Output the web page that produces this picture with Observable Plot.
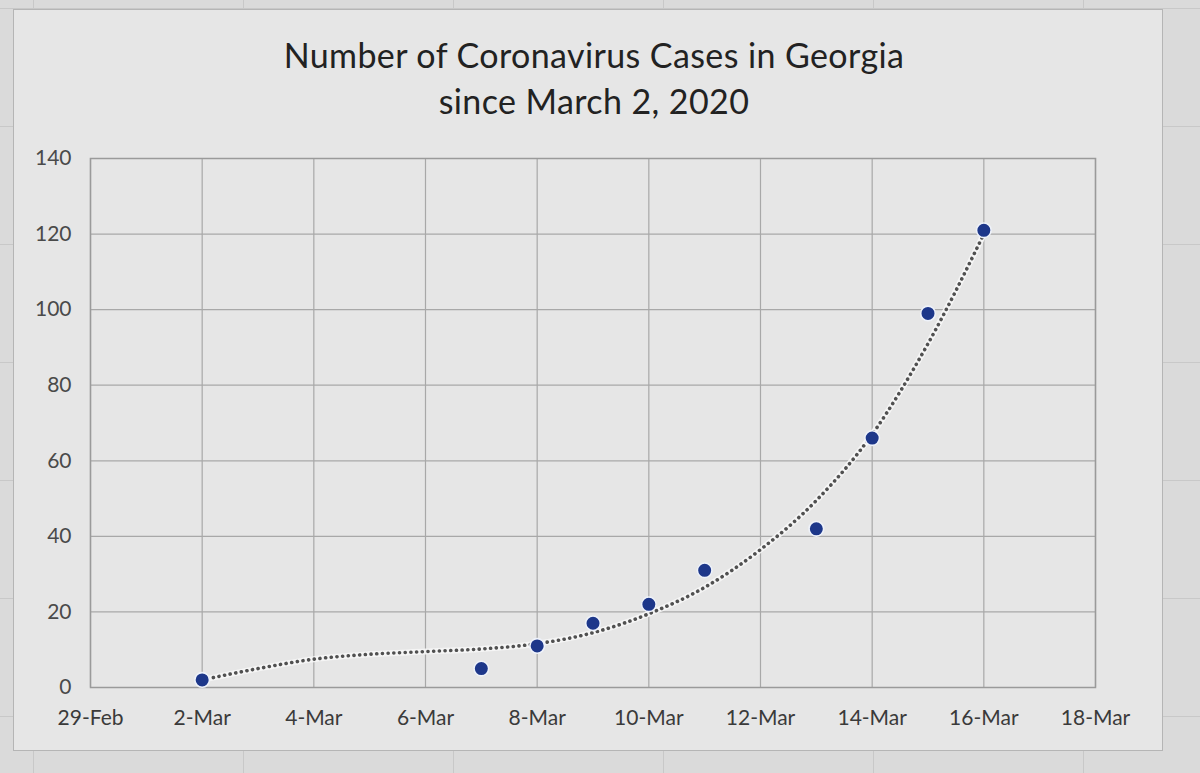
<!DOCTYPE html>
<html>
<head>
<meta charset="utf-8">
<script src="https://cdn.jsdelivr.net/npm/d3@7"></script>
<script src="https://cdn.jsdelivr.net/npm/@observablehq/plot@0.6"></script>
<style>
  html, body { margin: 0; padding: 0; width: 1200px; height: 773px; overflow: hidden; }
  body { background: #dadada; position: relative; font-family: Lato, "Open Sans", sans-serif; }
  #sheet { position: absolute; left: 0; top: 0; width: 1200px; height: 773px;
    background-image: linear-gradient(#c8c8c8 1px, transparent 1px), linear-gradient(90deg, #c8c8c8 1px, transparent 1px);
    background-size: 210px 118px; background-position: 0 -110px, 33px 0; }
  #card { position: absolute; left: 13px; top: 9px; width: 1148px; height: 740px;
    background: #e6e6e6; border: 1px solid #b5b5b5; }
  #title { position: absolute; left: 0; top: 32px; width: 1188px; text-align: center;
    font-size: 34px; letter-spacing: 0.4px; line-height: 46px; color: #222; }
  #chart { position: absolute; left: 0; top: 130px; }
</style>
</head>
<body>
<div id="sheet"></div>
<div id="card"></div>
<div id="title">Number of Coronavirus Cases in Georgia<br>since March 2, 2020</div>
<div id="chart"></div>
<script>
// Observed case counts
const dates = ["2020-03-02","2020-03-07","2020-03-08","2020-03-09","2020-03-10","2020-03-11","2020-03-13","2020-03-14","2020-03-15","2020-03-16"];
const cases = [2, 5, 11, 17, 22, 31, 42, 66, 99, 121];

// Dotted trendline
const trendDates = ["2020-03-02","2020-03-03","2020-03-04","2020-03-05","2020-03-06","2020-03-07","2020-03-08","2020-03-09","2020-03-10","2020-03-11","2020-03-12","2020-03-13","2020-03-14","2020-03-15","2020-03-16"];
const trendValues = [2, 5, 7.5, 8.8, 9.5, 10.2, 11.6, 14.5, 19.5, 26.5, 36.5, 49.5, 67, 91, 120];

// Axis ticks
const xTicks = ["2020-02-29","2020-03-02","2020-03-04","2020-03-06","2020-03-08","2020-03-10","2020-03-12","2020-03-14","2020-03-16","2020-03-18"];
const yTicks = [0, 20, 40, 60, 80, 100, 120, 140];

const parse = d3.utcParse("%Y-%m-%d");
const points = dates.map((d, i) => ({date: parse(d), value: cases[i]}));
const trend = trendDates.map((d, i) => ({date: parse(d), value: trendValues[i]}));
const xt = xTicks.map(parse);

const chart = Plot.plot({
  width: 1200,
  height: 600,
  marginLeft: 90,
  marginRight: 105,
  marginTop: 28,
  marginBottom: 43,
  style: {background: "transparent", fontFamily: "Lato, 'Open Sans', sans-serif", fontSize: "21px", color: "#444"},
  x: {type: "utc", domain: [xt[0], xt[xt.length - 1]], label: null},
  y: {domain: [0, 140], label: null},
  marks: [
    Plot.gridX(xt, {stroke: "#a8a8a8", strokeOpacity: 1, strokeWidth: 1.2}),
    Plot.gridY(yTicks, {stroke: "#a8a8a8", strokeOpacity: 1, strokeWidth: 1.2}),
    Plot.frame({stroke: "#9a9a9a", strokeWidth: 1.5}),
    Plot.axisX({ticks: xt, tickFormat: d3.utcFormat("%-d-%b"), tickSize: 0, tickPadding: 23, fill: "#3a3a3a"}),
    Plot.axisY({ticks: yTicks, tickSize: 0, tickPadding: 19, fill: "#4a4a4a"}),
    Plot.line(trend, {x: "date", y: "value", curve: "monotone-x", stroke: "#f6f6f6", strokeWidth: 6, strokeOpacity: 0.9}),
    Plot.line(trend, {x: "date", y: "value", curve: "monotone-x", stroke: "#505050", strokeWidth: 3.6, strokeDasharray: "0.1,5.6", strokeLinecap: "round"}),
    Plot.dot(points, {x: "date", y: "value", r: 7.3, fill: "#1d378a", stroke: "#eef2fa", strokeWidth: 1.6})
  ]
});
document.getElementById("chart").appendChild(chart);
</script>
</body>
</html>
